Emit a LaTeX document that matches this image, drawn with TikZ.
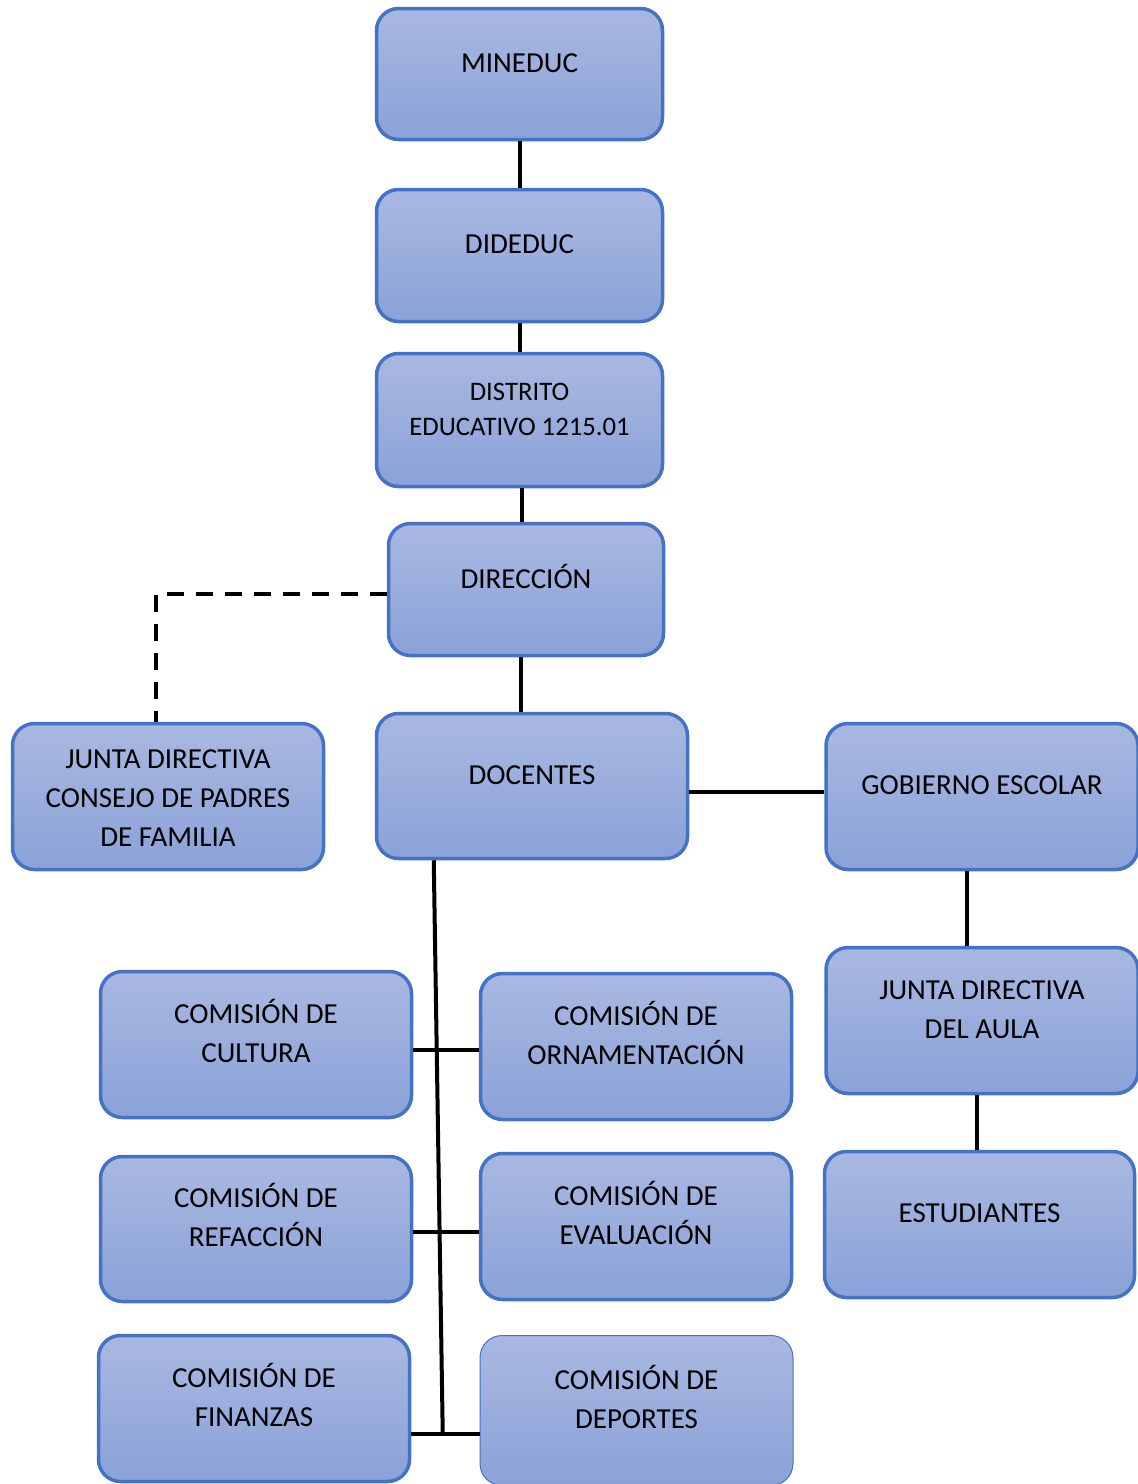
\documentclass[tikz,border=0pt]{standalone}
\usepackage{fontspec}
\setmainfont{Carlito}
\usetikzlibrary{positioning}
\definecolor{orgborder}{RGB}{68, 114, 196}
\definecolor{orgtop}{RGB}{169, 184, 225}
\definecolor{orgbottom}{RGB}{138, 162, 216}

\begin{document}
\begin{tikzpicture}[
    x=1pt, y=-1pt,
    orgbox/.style={
        rectangle,
        rounded corners=22pt,
        draw=orgborder,
        line width=3.5pt,
        top color=orgtop,
        bottom color=orgbottom,
        minimum width=311pt,
        minimum height=146pt
    },
    boxtext/.style={
        font=\fontsize{29}{39}\selectfont,
        align=center,
        text=black,
        yshift=11pt
    },
    accenttext/.style={
        boxtext,
        yshift=3pt
    },
    link/.style={
        draw=black,
        line width=4pt
    },
    dashlink/.style={
        link,
        dash pattern=on 17pt off 12pt
    }
]

% Page frame
\useasboundingbox (0,0) rectangle (1138,1484);

% Nodes
\node[orgbox, minimum width=286pt, minimum height=131pt, label={[boxtext]center:MINEDUC}] (mineduc) at (519.5,74) {};
\node[orgbox, minimum width=286pt, minimum height=132pt, label={[boxtext]center:DIDEDUC}] (dideduc) at (519.5,255.5) {};
\node[orgbox, minimum width=286pt, minimum height=133pt, label={[boxtext, font=\fontsize{26.7}{35}\selectfont]center:DISTRITO\\EDUCATIVO 1215.01}] (distrito) at (519.5,420) {};
\node[orgbox, minimum width=275pt, minimum height=132pt, label={[accenttext, yshift=-1pt]center:DIRECCIÓN}] (direccion) at (526,589.5) {};
\node[orgbox, minimum height=145pt, label={[boxtext]center:DOCENTES}] (docentes) at (532,786) {};
\node[orgbox, label={[boxtext, yshift=-13pt]center:JUNTA DIRECTIVA\\CONSEJO DE PADRES\\DE FAMILIA}] (consejo) at (168,796.5) {};

\node[orgbox, minimum width=312pt, label={[boxtext]center:GOBIERNO ESCOLAR}] (gobierno) at (982,796.5) {};
\node[orgbox, minimum width=312pt, label={[boxtext]center:JUNTA DIRECTIVA\\DEL AULA}] (aula) at (982,1020.5) {};
\node[orgbox, minimum width=310pt, label={[boxtext]center:ESTUDIANTES}] (estudiantes) at (979.5,1224.5) {};

\node[orgbox, label={[accenttext]center:COMISIÓN DE\\CULTURA}] (cultura) at (256,1044.5) {};
\node[orgbox, label={[accenttext]center:COMISIÓN DE\\ORNAMENTACIÓN}] (ornamentacion) at (636,1046.5) {};
\node[orgbox, minimum height=145pt, label={[accenttext]center:COMISIÓN DE\\REFACCIÓN}] (refaccion) at (256,1229) {};
\node[orgbox, label={[accenttext]center:COMISIÓN DE\\EVALUACIÓN}] (evaluacion) at (636,1226.5) {};
\node[orgbox, label={[accenttext]center:COMISIÓN DE\\FINANZAS}] (finanzas) at (254,1408.5) {};
\node[orgbox, line width=1pt, minimum width=313pt, minimum height=150pt, label={[accenttext]center:COMISIÓN DE\\DEPORTES}] (deportes) at (636.5,1410.5) {};

% Connectors
\draw[link] (mineduc) -- (dideduc);
\draw[link] (dideduc) -- (distrito);
\draw[link] ([xshift=2.5pt]distrito.south) -- ([xshift=2.5pt]distrito.south |- direccion.north);
\draw[link] ([xshift=-5pt]direccion.south) -- ([xshift=-5pt]direccion.south |- docentes.north);
\draw[dashlink] ([yshift=-4.5pt]direccion.west) -| ([xshift=-12pt]consejo.north);
\draw[link] ([yshift=-6pt]docentes.east) -- ([yshift=-6pt]docentes.east -| gobierno.west);
\draw[link] ([xshift=-15pt]gobierno.south) -- ([xshift=-15pt]gobierno.south |- aula.north);
\draw[link] ([xshift=-5pt]aula.south) -- ([xshift=-5pt]aula.south |- estudiantes.north);

% Commission tree
\coordinate (trunkend) at ([xshift=31.5pt, yshift=-25.5pt]finanzas.east);
\draw[link] ([xshift=59pt]docentes.south west) -- (trunkend);
\draw[link] ([yshift=-5.5pt]cultura.east) -- ([yshift=-5.5pt]cultura.east -| ornamentacion.west);
\draw[link] ([yshift=-3pt]refaccion.east) -- ([yshift=-3pt]refaccion.east -| evaluacion.west);
\draw[link] ([yshift=-25.5pt]finanzas.east) -- ([yshift=-25.5pt]finanzas.east -| deportes.west);

\end{tikzpicture}
\end{document}
